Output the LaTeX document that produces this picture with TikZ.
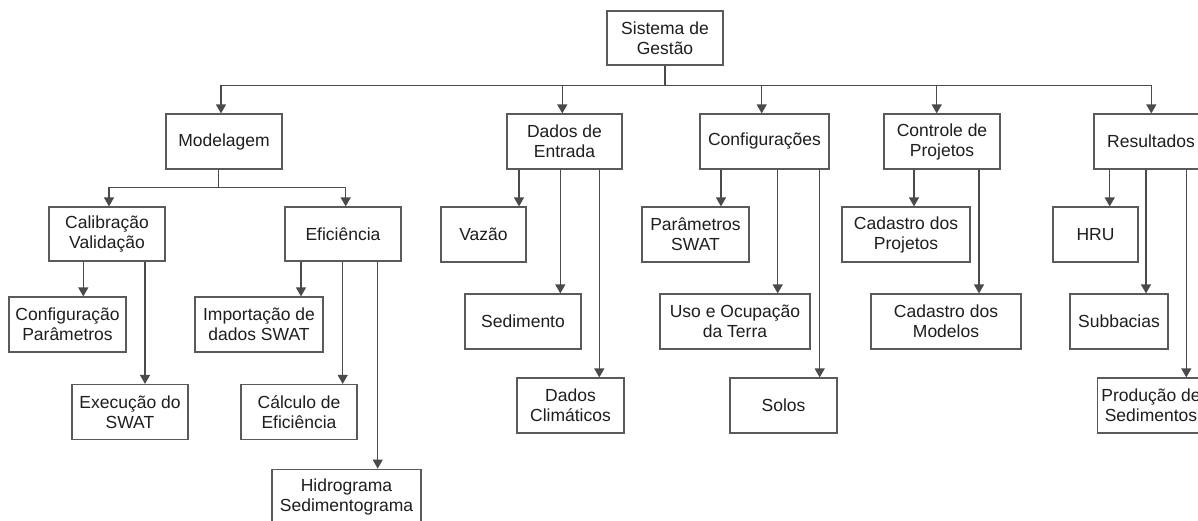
\documentclass[tikz,border=0pt]{standalone}
\usepackage{fontspec}
\setmainfont{Liberation Sans}
\usetikzlibrary{arrows.meta}
\definecolor{linec}{HTML}{4A4A4A}
\definecolor{boxc}{HTML}{5A5A5A}
\definecolor{txtc}{HTML}{1E1E1E}
\tikzset{
  box/.style={draw=boxc, line width=1.2pt, rectangle, inner sep=0pt, align=center,
    text=txtc, font=\fontsize{17.5}{20}\selectfont},
  conn/.style={draw=linec, line width=1.2pt},
  arr/.style={conn, -{Triangle[width=10pt,length=9pt]}},
}
\begin{document}
\begin{tikzpicture}[x=1pt,y=-1pt]
\useasboundingbox (0,0) rectangle (1198,520);
\fill[white] (0,0) rectangle (1198,520);
\clip (0,0) rectangle (1198,520);
% level 0
\node[box, minimum width=116, minimum height=54] (sg) at (665,38) {Sistema de\\Gestão};
% level 1
\node[box, minimum width=116, minimum height=55] (mod) at (224,141.5) {Modelagem};
\node[box, minimum width=115, minimum height=55] (de) at (564.5,141.5) {Dados de\\Entrada};
\node[box, minimum width=129, minimum height=55] (cfg) at (764.5,141.5) {Configurações};
\node[box, minimum width=116, minimum height=55] (cp) at (942,141.5) {Controle de\\Projetos};
\node[box, minimum width=114, minimum height=55] (res) at (1151,141.5) {Resultados};
% level 2 modelagem
\node[box, minimum width=116, minimum height=54] (cal) at (107,234) {Calibração\\Validação};
\node[box, minimum width=116, minimum height=54] (ef) at (343,234) {Eficiência};
% level 3 modelagem
\node[box, minimum width=117, minimum height=55] (conf) at (67.5,324.5) {Configuração\\Parâmetros};
\node[box, minimum width=116, minimum height=55] (exe) at (130,412) {Execução do\\SWAT};
\node[box, minimum width=128, minimum height=55] (imp) at (259,324.5) {Importação de\\dados SWAT};
\node[box, minimum width=116, minimum height=55] (calc) at (299,412) {Cálculo de\\Eficiência};
\node[box, minimum width=149, minimum height=55] (hid) at (346.5,496.7) {Hidrograma\\Sedimentograma};
% dados de entrada
\node[box, minimum width=85, minimum height=55] (vaz) at (483.5,234.5) {Vazão};
\node[box, minimum width=116, minimum height=55] (sed) at (523,321.5) {Sedimento};
\node[box, minimum width=107, minimum height=55] (dc) at (570.5,405.5) {Dados\\Climáticos};
% configuracoes
\node[box, minimum width=107, minimum height=55] (ps) at (695.5,234.5) {Parâmetros\\SWAT};
\node[box, minimum width=150, minimum height=55] (uso) at (735,321.5) {Uso e Ocupação\\da Terra};
\node[box, minimum width=107, minimum height=55] (sol) at (783.5,405.5) {Solos};
% controle
\node[box, minimum width=128, minimum height=55] (cdp) at (906,234.5) {Cadastro dos\\Projetos};
\node[box, minimum width=150, minimum height=55] (cdm) at (946,321.5) {Cadastro dos\\Modelos};
% resultados
\node[box, minimum width=85, minimum height=55] (hru) at (1095.5,234.5) {HRU};
\node[box, minimum width=98, minimum height=55] (sub) at (1119,321.5) {Subbacias};
\node[box, minimum width=107, minimum height=55] (prod) at (1151,405.5) {Produção de\\Sedimentos};

% main bus
\coordinate (bus) at (665,85.7);
\draw[conn] (sg.south) -- (bus);
\draw[arr] (bus) -| (221,0 |- mod.north);
\draw[arr] (bus) -| (1151.3,0 |- res.north);
\draw[arr] (562.3,0 |- bus) -- (562.3,0 |- de.north);
\draw[arr] (761.7,0 |- bus) -- (761.7,0 |- cfg.north);
\draw[arr] (936.7,0 |- bus) -- (936.7,0 |- cp.north);

% modelagem bus
\coordinate (mbus) at (218.7,187.7);
\draw[conn] (218.7,0 |- mod.south) -- (mbus);
\draw[arr] (mbus) -| (109,0 |- cal.north);
\draw[arr] (mbus) -| (345.7,0 |- ef.north);

% calibracao children
\draw[arr] (83.3,0 |- cal.south) -- (83.3,0 |- conf.north);
\draw[arr] (145,0 |- cal.south) -- (145,0 |- exe.north);
% eficiencia children
\draw[arr] (301,0 |- ef.south) -- (301,0 |- imp.north);
\draw[arr] (342.7,0 |- ef.south) -- (342.7,0 |- calc.north);
\draw[arr] (377.7,0 |- ef.south) -- (377.7,0 |- hid.north);
% dados de entrada children
\draw[arr] (519,0 |- de.south) -- (519,0 |- vaz.north);
\draw[arr] (560.3,0 |- de.south) -- (560.3,0 |- sed.north);
\draw[arr] (599.3,0 |- de.south) -- (599.3,0 |- dc.north);
% configuracoes children
\draw[arr] (721,0 |- cfg.south) -- (721,0 |- ps.north);
\draw[arr] (777.7,0 |- cfg.south) -- (777.7,0 |- uso.north);
\draw[arr] (819.7,0 |- cfg.south) -- (819.7,0 |- sol.north);
% controle children
\draw[arr] (914,0 |- cp.south) -- (914,0 |- cdp.north);
\draw[arr] (979,0 |- cp.south) -- (979,0 |- cdm.north);
% resultados children
\draw[arr] (1109.7,0 |- res.south) -- (1109.7,0 |- hru.north);
\draw[arr] (1146,0 |- res.south) -- (1146,0 |- sub.north);
\draw[arr] (1186.3,0 |- res.south) -- (1186.3,0 |- prod.north);
\end{tikzpicture}
\end{document}
